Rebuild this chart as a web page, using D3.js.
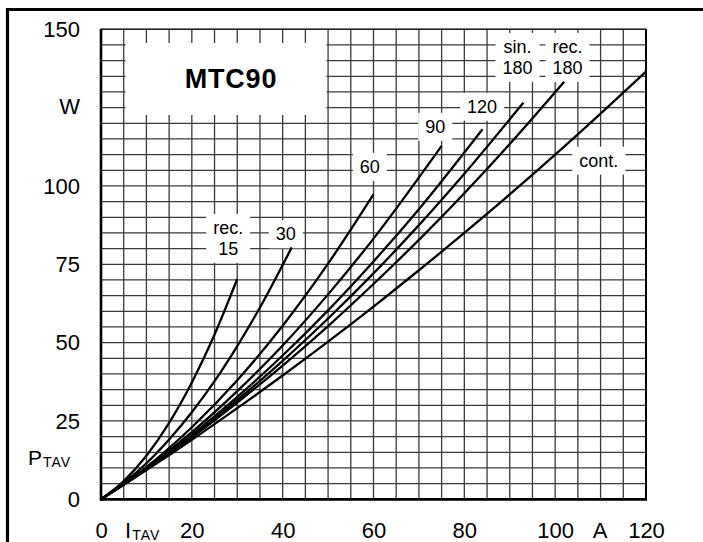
<!DOCTYPE html>
<html>
<head>
<meta charset="utf-8">
<script src="https://cdn.jsdelivr.net/npm/d3@7"></script>
<style>
  html, body { margin: 0; padding: 0; background: #fff; }
  svg { display: block; }
  text { font-family: "Liberation Sans", Arial, sans-serif; fill: #000; }
</style>
</head>
<body>
<svg id="chart" width="703" height="542"></svg>
<script>
// ---------------- data ----------------
const chartTitle = "MTC90";
const xTickValues = [0, 20, 40, 60, 80, 100, 120];
const yTickValues = [0, 25, 50, 75, 100, 150];

const iRec15  = [0, 5, 10, 15, 20, 25, 30];
const pRec15  = [0, 5.8, 13.9, 24.4, 37.3, 52.6, 70.3];
const iRec30  = [0, 5, 10, 15, 20, 25, 30, 35, 42];
const pRec30  = [0, 5.2, 11.5, 19.1, 27.8, 37.7, 48.9, 61.2, 80.4];
const iRec60  = [0, 10, 20, 30, 40, 50, 60];
const pRec60  = [0, 10.3, 23.0, 38.0, 55.4, 75.2, 97.3];
const iRec90  = [0, 10, 20, 30, 40, 50, 60, 75];
const pRec90  = [0, 9.9, 21.4, 34.5, 49.1, 65.4, 83.2, 112.8];
const iRec120 = [0, 10, 20, 30, 40, 50, 60, 70, 84];
const pRec120 = [0, 9.7, 20.6, 32.7, 45.9, 60.3, 75.9, 92.6, 118.1];
const iSin180 = [0, 10, 20, 30, 40, 50, 60, 70, 80, 93];
const pSin180 = [0, 9.6, 20.2, 31.7, 44.2, 57.7, 72.1, 87.5, 103.9, 126.6];
const iRec180 = [0, 10, 20, 30, 40, 50, 60, 70, 80, 90, 102];
const pRec180 = [0, 9.5, 19.8, 30.9, 42.7, 55.3, 68.7, 82.8, 97.7, 113.4, 133.3];
const iCont   = [0, 10, 20, 30, 40, 50, 60, 70, 80, 90, 100, 110, 120];
const pCont   = [0, 9.3, 19.0, 29.1, 39.5, 50.3, 61.5, 73.1, 85.0, 97.3, 110.0, 123.1, 136.5];

const seriesX = [iRec15, iRec30, iRec60, iRec90, iRec120, iSin180, iRec180, iCont];
const seriesY = [pRec15, pRec30, pRec60, pRec90, pRec120, pSin180, pRec180, pCont];

// curve label texts (lines) and their anchor data positions [A, W]
const labelLines = [["rec.", "15"], ["30"], ["60"], ["90"], ["120"], ["sin.", "180"], ["rec.", "180"], ["cont."]];
const labelAt    = [[28.0, 88.5], [40.7, 86.5], [59.2, 108.0], [73.6, 120.8], [83.9, 127.2], [91.7, 146.3], [102.7, 146.3], [109.6, 110.0]];

// ---------------- drawing ----------------
const svg = d3.select("#chart");
const W = 703, H = 542;
const x = d3.scaleLinear().domain([0, 120]).range([101, 646]);
const y = d3.scaleLinear().domain([0, 150]).range([499.3, 29.3]);

svg.append("rect").attr("width", W).attr("height", H).attr("fill", "#fff");

// outer frame (top and left)
svg.append("line").attr("x1", 6).attr("x2", W).attr("y1", 9.5).attr("y2", 9.5)
  .attr("stroke", "#000").attr("stroke-width", 3.2);
svg.append("line").attr("x1", 7.5).attr("x2", 7.5).attr("y1", 8).attr("y2", H)
  .attr("stroke", "#000").attr("stroke-width", 3.2);

// grid
const grid = svg.append("g").attr("stroke", "#3a3a3a").attr("stroke-width", 1.3);
grid.selectAll("line.v").data(d3.range(0, 121, 5)).join("line")
  .attr("x1", d => x(d)).attr("x2", d => x(d)).attr("y1", y(150)).attr("y2", y(0));
grid.selectAll("line.h").data(d3.range(0, 151, 5)).join("line")
  .attr("y1", d => y(d)).attr("y2", d => y(d)).attr("x1", x(0)).attr("x2", x(120));

// title box
svg.append("rect").attr("x", 125.5).attr("y", 43).attr("width", 201).attr("height", 72).attr("fill", "#fff");
svg.append("text").attr("x", 231).attr("y", 88).attr("text-anchor", "middle")
  .attr("font-size", 27).attr("font-weight", "bold").attr("letter-spacing", 0.8).text(chartTitle);

// curve label boxes and texts
const labG = svg.append("g");
labelLines.forEach((lines, k) => {
  const g = labG.append("g");
  const bg = g.append("rect").attr("fill", "#fff");
  const cx = x(labelAt[k][0]), top = y(labelAt[k][1]);
  lines.forEach((t, j) => {
    g.append("text").attr("x", cx).attr("y", top + 12 + j * 21)
      .attr("text-anchor", "middle").attr("font-size", 18).text(t);
  });
  const bb = g.node().getBBox();
  bg.attr("x", bb.x - 7).attr("y", bb.y - 4).attr("width", bb.width + 14).attr("height", bb.height + 8);
});

// curves
const line = d3.line().x(d => x(d[0])).y(d => y(d[1])).curve(d3.curveMonotoneX);
svg.append("g").selectAll("path").data(seriesX.map((xs, k) => xs.map((v, i) => [v, seriesY[k][i]])))
  .join("path").attr("d", line).attr("fill", "none").attr("stroke", "#000")
  .attr("stroke-width", 2.3).attr("stroke-linejoin", "round");

// plot border
svg.append("line").attr("x1", x(120)).attr("x2", x(120)).attr("y1", y(150)).attr("y2", y(0))
  .attr("stroke", "#000").attr("stroke-width", 2);
svg.append("line").attr("x1", x(0)).attr("x2", x(120)).attr("y1", y(150)).attr("y2", y(150))
  .attr("stroke", "#222").attr("stroke-width", 1.5);
svg.append("line").attr("x1", x(0)).attr("x2", x(0)).attr("y1", y(150) - 0.5).attr("y2", y(0) + 1.5)
  .attr("stroke", "#000").attr("stroke-width", 2.6);
svg.append("line").attr("x1", x(0) - 1).attr("x2", x(120) + 1).attr("y1", y(0)).attr("y2", y(0))
  .attr("stroke", "#000").attr("stroke-width", 2.8);

// axes (labels only)
const yAxis = svg.append("g").attr("transform", `translate(${x(0)},0)`)
  .call(d3.axisLeft(y).tickValues(yTickValues).tickSize(0).tickPadding(21));
const xAxis = svg.append("g").attr("transform", `translate(0,${y(0)})`)
  .call(d3.axisBottom(x).tickValues(xTickValues).tickSize(0).tickPadding(23));
[yAxis, xAxis].forEach(a => {
  a.select(".domain").remove();
  a.selectAll("text").attr("font-size", 22).attr("fill", "#000")
    .attr("font-family", "'Liberation Sans', Arial, sans-serif");
});

// unit and quantity labels
svg.append("text").attr("x", 80).attr("y", 114).attr("text-anchor", "end").attr("font-size", 22).text("W");
svg.append("text").attr("x", 600).attr("y", 538).attr("text-anchor", "middle").attr("font-size", 22).text("A");
const iLab = svg.append("text").attr("x", 125).attr("y", 538).attr("font-size", 22);
iLab.append("tspan").text("I");
iLab.append("tspan").attr("font-size", 14).attr("dy", 2).attr("dx", 1).attr("letter-spacing", 1).text("TAV");
const pLab = svg.append("text").attr("x", 28).attr("y", 465).attr("font-size", 21);
pLab.append("tspan").text("P");
pLab.append("tspan").attr("font-size", 14).attr("dy", 2).attr("dx", 1).attr("letter-spacing", 1).text("TAV");
</script>
</body>
</html>
